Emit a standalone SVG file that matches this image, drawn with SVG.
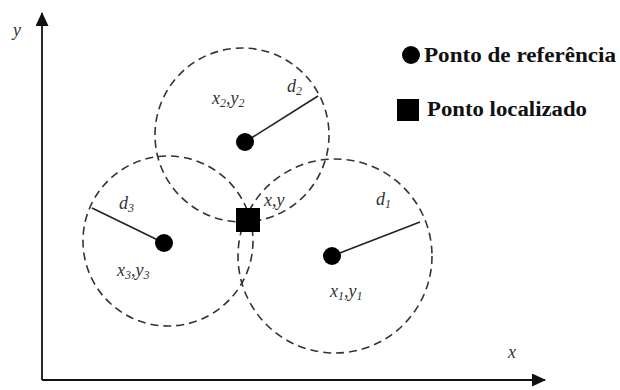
<svg xmlns="http://www.w3.org/2000/svg" width="620" height="390" viewBox="0 0 620 390">
<style>
.ring{fill:none;stroke:#333;stroke-width:1.6;stroke-dasharray:8 5}
.rad{stroke:#222;stroke-width:1.6}
.axis{stroke:#111;stroke-width:1.8}
.dot{fill:#000}
.lbl{font-family:"Liberation Serif",serif;font-style:italic;font-size:18px;fill:#333}
.sub{font-size:12px}
.leg{font-family:"Liberation Serif",serif;font-weight:bold;font-size:20px;fill:#111}
</style>
<defs>
<marker id="ah" markerWidth="14" markerHeight="14" refX="13" refY="6.5" orient="auto" markerUnits="userSpaceOnUse">
<path d="M0,0 L14,6.5 L0,13 Z" fill="#111"/>
</marker>
</defs>
<rect width="620" height="390" fill="#fff"/>
<g id="axes">
<line class="axis" x1="42" y1="380" x2="42" y2="13" marker-end="url(#ah)"/>
<line class="axis" x1="42" y1="380" x2="545" y2="380" marker-end="url(#ah)"/>
<text class="lbl" x="13" y="36">y</text>
<text class="lbl" x="508" y="358">x</text>
</g>
<g id="connectors">
<line class="rad" x1="245" y1="142" x2="318" y2="96"/>
<line class="rad" x1="164" y1="243" x2="92" y2="208"/>
<line class="rad" x1="332" y1="256" x2="420" y2="222"/>
</g>
<g id="circle2">
<circle class="ring" cx="242" cy="135" r="87"/>
<circle class="dot" cx="245" cy="142" r="9"/>
<text class="lbl" x="212" y="104">x<tspan class="sub" dy="3">2</tspan><tspan dy="-3">,y</tspan><tspan class="sub" dy="3">2</tspan></text>
<text class="lbl" x="287" y="92">d<tspan class="sub" dy="3">2</tspan></text>
</g>
<g id="circle3">
<circle class="ring" cx="168" cy="241" r="85"/>
<circle class="dot" cx="164" cy="243" r="9"/>
<text class="lbl" x="117" y="276">x<tspan class="sub" dy="3">3</tspan><tspan dy="-3">,y</tspan><tspan class="sub" dy="3">3</tspan></text>
<text class="lbl" x="119" y="209">d<tspan class="sub" dy="3">3</tspan></text>
</g>
<g id="circle1">
<circle class="ring" cx="335" cy="256" r="97"/>
<circle class="dot" cx="332" cy="256" r="9"/>
<text class="lbl" x="330" y="297">x<tspan class="sub" dy="3">1</tspan><tspan dy="-3">,y</tspan><tspan class="sub" dy="3">1</tspan></text>
<text class="lbl" x="376" y="205">d<tspan class="sub" dy="3">1</tspan></text>
</g>
<g id="located">
<rect x="236" y="208" width="24" height="24" fill="#000"/>
<text class="lbl" x="264" y="206">x,y</text>
</g>
<g id="legend">
<circle class="dot" cx="411" cy="55" r="9"/>
<text class="leg" x="424" y="62" textLength="192" lengthAdjust="spacingAndGlyphs">Ponto de referência</text>
<rect x="397" y="99" width="22" height="22" fill="#000"/>
<text class="leg" x="427" y="116" textLength="160" lengthAdjust="spacingAndGlyphs">Ponto localizado</text>
</g>
</svg>
